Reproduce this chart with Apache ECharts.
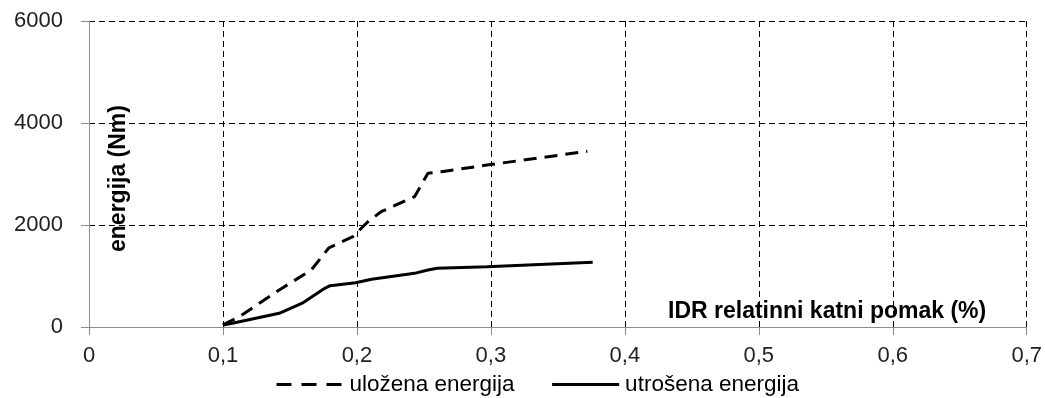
<!DOCTYPE html>
<html><head><meta charset="utf-8">
<script src="https://cdn.jsdelivr.net/npm/echarts@6/dist/echarts.min.js"></script>
<style>html,body{margin:0;padding:0;background:#fff}#c{width:1045px;height:398px}</style>
</head><body><div id="c"></div>
<script>
const seriesNames = ['uložena energija', 'utrošena energija'];
const ulozenaX = [0.100, 0.112, 0.142, 0.166, 0.179, 0.197, 0.208, 0.218, 0.243, 0.253, 0.263, 0.297, 0.372];
const ulozenaY = [40, 200, 725, 1120, 1550, 1770, 2060, 2260, 2555, 3015, 3045, 3175, 3445];
const utrosenaX = [0.100, 0.107, 0.142, 0.155, 0.160, 0.176, 0.180, 0.199, 0.211, 0.243, 0.253, 0.260, 0.297, 0.376];
const utrosenaY = [40, 72, 268, 420, 480, 758, 810, 868, 935, 1052, 1117, 1150, 1182, 1268];
const xTicks = [0, 0.1, 0.2, 0.3, 0.4, 0.5, 0.6, 0.7];
const yTicks = [0, 2000, 4000, 6000];
const xTitle = 'IDR relatinni katni pomak (%)';
const yTitle = 'energija (Nm)';

const pairs = (xs, ys) => xs.map((x, i) => [x, ys[i]]);
const font = 'Liberation Sans, Arial, sans-serif';
const chart = echarts.init(document.getElementById('c'));
chart.setOption({
  animation: false,
  grid: {left: 89, right: 12, top: 21, bottom: 71, containLabel: false},
  xAxis: {
    type: 'value', min: xTicks[0], max: xTicks[xTicks.length - 1], interval: 0.1,
    axisLine: {show: true, onZero: false, lineStyle: {color: '#8c8c8c', width: 1}},
    axisTick: {show: true, length: 8, lineStyle: {color: '#8c8c8c'}},
    axisLabel: {color: '#222', fontFamily: font, fontSize: 22, margin: 18,
      formatter: v => String(Math.round(v * 10) / 10).replace('.', ',')},
    splitLine: {show: true, lineStyle: {color: '#000', type: [6, 4], width: 1}}
  },
  yAxis: {
    type: 'value', min: yTicks[0], max: yTicks[yTicks.length - 1], interval: 2000,
    axisLine: {show: true, lineStyle: {color: '#8c8c8c', width: 1}},
    axisTick: {show: true, length: 8, lineStyle: {color: '#8c8c8c'}},
    axisLabel: {color: '#222', fontFamily: font, fontSize: 22, margin: 26,
      formatter: v => String(v)},
    splitLine: {show: true, lineStyle: {color: '#000', type: [6, 4], width: 1}}
  },
  legend: {
    top: 373, left: 275, padding: 0, itemWidth: 67, itemHeight: 12, itemGap: 36,
    itemStyle: {opacity: 0},
    textStyle: {color: '#000', fontFamily: font, fontSize: 22.5, padding: [0, 0, 0, 1]},
    data: [
      {name: seriesNames[0], lineStyle: {type: [15, 10], width: 3, color: '#000'}},
      {name: seriesNames[1], lineStyle: {type: 'solid', width: 3, color: '#000'}}
    ]
  },
  graphic: [
    {type: 'text', left: 668, top: 300, z: 0,
      style: {text: xTitle, font: 'bold 23px ' + font, fill: '#000'}},
    {type: 'text', x: 107, y: 252, rotation: Math.PI / 2, z: 0,
      style: {text: yTitle, font: 'bold 23px ' + font, fill: '#000'}}
  ],
  series: [
    {name: seriesNames[0], type: 'line', symbol: 'none', data: pairs(ulozenaX, ulozenaY),
      lineStyle: {color: '#000', width: 3, type: [13, 8]}, itemStyle: {color: '#000'}},
    {name: seriesNames[1], type: 'line', symbol: 'none', data: pairs(utrosenaX, utrosenaY),
      lineStyle: {color: '#000', width: 3}, itemStyle: {color: '#000'}}
  ]
});
</script></body></html>
